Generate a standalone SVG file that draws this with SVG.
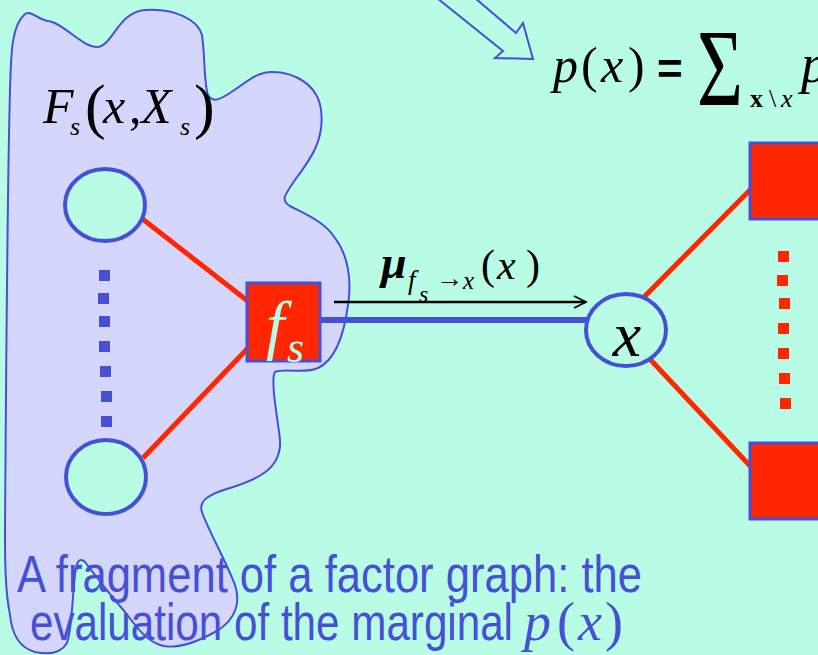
<svg xmlns="http://www.w3.org/2000/svg" width="818" height="655" viewBox="0 0 818 655">
<style>
.serif{font-family:"Liberation Serif","Times New Roman","DejaVu Serif",serif;}
.it{font-style:italic;}
.up{font-style:normal;}
.sans{font-family:"Liberation Sans",Arial,sans-serif;}
.var{fill:#B9FCE6;stroke:#4650D6;stroke-width:4;}
.fac{fill:#FF2600;stroke:#4650D6;stroke-width:3;}
.red{stroke:#FF2600;stroke-width:5;fill:none;}
.bdot{fill:#4650D6;}
.rdot{fill:#FF2600;}
.cap{fill:#4650D6;}
</style>
<defs>
<marker id="chev" viewBox="0 0 10 10" refX="9" refY="5" markerWidth="6" markerHeight="6" markerUnits="strokeWidth" orient="auto">
<path d="M1,1 L9,5 L1,9" fill="none" stroke="#000" stroke-width="1.3"/>
</marker>
</defs>
<rect width="818" height="655" fill="#B9FCE6"/>
<g id="blob">
<path d="M25,14 C32,10 38,20 48,21 C62,22 82,47 97,47 C112,47 118,12 145,10 C175,8 198,20 202,35 C205,55 204,85 208,95 C212,102 218,100 225,96 C245,84 255,72 272,72 C295,72 318,85 321,110 C325,140 310,160 295,180 C285,195 280,200 290,206 C305,214 325,222 335,238 C348,255 352,280 348,305 C344,335 335,360 318,368 C305,374 285,368 275,372 C270,380 278,420 280,440 C282,470 255,480 230,488 C210,494 198,500 202,512 C206,525 225,560 233,580 C242,600 237,620 215,632 C195,643 175,650 160,645 C145,640 135,625 125,612 C110,595 95,575 85,562 C78,556 76,565 75,575 C72,600 72,630 67,643 C60,655 45,654 35,652 C20,648 12,635 10,615 C5,590 5,560 5,530 C6,400 7,200 10,90 C11,50 12,25 25,14 Z" fill="#D5D6FC" stroke="#4650D6" stroke-width="2"/>
</g>
<g id="hollow-arrow">
<path d="M437,-2 L503,51 L495,58 L533,59 L523,23 L516,33 L475,-2" fill="#B9FCE6" stroke="#4650D6" stroke-width="2"/>
</g>
<g id="connectors">
<line class="red" x1="140" y1="217" x2="249" y2="302"/>
<line class="red" x1="143" y1="458" x2="249" y2="347"/>
<line x1="320" y1="320" x2="587" y2="320" stroke="#4650D6" stroke-width="6"/>
<line x1="334" y1="302" x2="586" y2="302" stroke="#000" stroke-width="2.5" marker-end="url(#chev)"/>
<line class="red" x1="643" y1="298" x2="752" y2="188"/>
<line class="red" x1="648" y1="357" x2="752" y2="468"/>
</g>
<g id="dots-left">
<rect class="bdot" x="99" y="270" width="11" height="11"/>
<rect class="bdot" x="98" y="293" width="11" height="11"/>
<rect class="bdot" x="99" y="316" width="11" height="11"/>
<rect class="bdot" x="99" y="341" width="11" height="11"/>
<rect class="bdot" x="100" y="366" width="11" height="11"/>
<rect class="bdot" x="101" y="391" width="11" height="11"/>
<rect class="bdot" x="101" y="416" width="11" height="11"/>
</g>
<g id="dots-right">
<rect class="rdot" x="778" y="251" width="11" height="11"/>
<rect class="rdot" x="777" y="275" width="11" height="11"/>
<rect class="rdot" x="779" y="298" width="11" height="11"/>
<rect class="rdot" x="778" y="323" width="11" height="11"/>
<rect class="rdot" x="778" y="348" width="11" height="11"/>
<rect class="rdot" x="779" y="373" width="11" height="11"/>
<rect class="rdot" x="780" y="398" width="11" height="11"/>
</g>
<g id="var-top"><ellipse class="var" cx="105" cy="205" rx="40" ry="36"/></g>
<g id="var-bottom"><ellipse class="var" cx="106" cy="477" rx="40" ry="37"/></g>
<g id="factor-fs">
<rect class="fac" x="247" y="283" width="73" height="78"/>
<text class="serif it" fill="#B9FCE6"><tspan x="266" y="347" font-size="66">f</tspan><tspan x="287" y="362" font-size="44">s</tspan></text>
</g>
<g id="var-x">
<ellipse class="var" cx="626" cy="330" rx="40" ry="36"/>
<text class="serif it" x="627" y="356" font-size="64" text-anchor="middle">x</text>
</g>
<g id="factor-top"><rect class="fac" x="750" y="143" width="75" height="76"/></g>
<g id="factor-bottom"><rect class="fac" x="750" y="443" width="75" height="76"/></g>
<g id="label-Fs">
<text class="serif it"><tspan x="43" y="123" font-size="50">F</tspan><tspan x="70" y="135" font-size="26">s</tspan><tspan class="up" x="85" y="127" font-size="62">(</tspan><tspan x="103" y="123" font-size="50">x</tspan><tspan class="up" x="129" y="123" font-size="50">,</tspan><tspan x="141" y="123" font-size="50">X</tspan><tspan x="180" y="135" font-size="26">s</tspan><tspan class="up" x="194" y="127" font-size="62">)</tspan></text>
</g>
<g id="label-mu">
<text class="serif it"><tspan x="381" y="278" font-size="46" font-weight="bold">μ</tspan><tspan x="408" y="289" font-size="27">f</tspan><tspan x="419" y="302" font-size="24">s</tspan><tspan class="up" x="436" y="287" font-size="27">→</tspan><tspan x="463" y="289" font-size="25">x</tspan><tspan class="up" x="481" y="279" font-size="42">(</tspan><tspan x="497" y="279" font-size="42">x</tspan><tspan class="up" x="526" y="279" font-size="42">)</tspan></text>
</g>
<g id="formula">
<text class="serif it" font-size="50"><tspan x="553" y="82">p</tspan><tspan class="up" x="581" y="82">(</tspan><tspan x="601" y="82">x</tspan><tspan class="up" x="628" y="82">)</tspan></text>
<text class="sans" x="657" y="84" font-size="44" font-weight="bold">=</text>
<text class="serif" x="697" y="105" font-size="110" textLength="46" lengthAdjust="spacingAndGlyphs">Σ</text>
<text class="serif" font-size="26"><tspan x="750" y="107" font-weight="bold">x</tspan><tspan x="769" y="107">\</tspan><tspan class="it" x="781" y="107">x</tspan></text>
<text class="serif it" x="801" y="82" font-size="54">p</text>
</g>
<g id="caption">
<text class="sans cap" x="17" y="592" font-size="52" textLength="625" lengthAdjust="spacingAndGlyphs">A fragment of a factor graph: the</text>
<text class="sans cap" x="30" y="640" font-size="52" textLength="483" lengthAdjust="spacingAndGlyphs">evaluation of the marginal</text>
<text class="serif it cap" font-size="54"><tspan x="524" y="640">p</tspan><tspan class="up" x="557" y="640">(</tspan><tspan x="578" y="640">x</tspan><tspan class="up" x="605" y="640">)</tspan></text>
</g>
</svg>
